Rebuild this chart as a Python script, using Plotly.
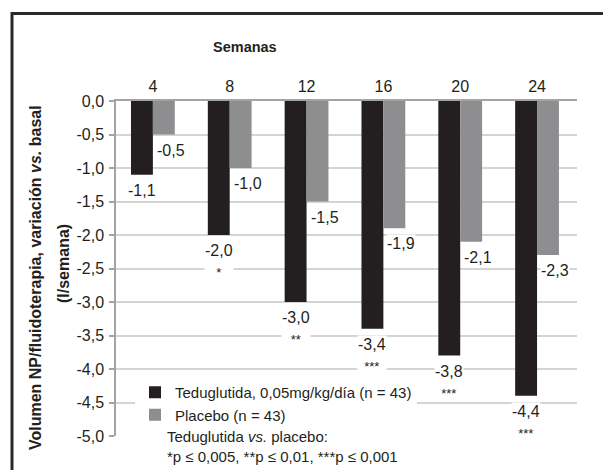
import plotly.graph_objects as go

# Data: change in PN/IV volume vs. baseline (l/week)
weeks = ["4", "8", "12", "16", "20", "24"]
teduglutide = [-1.1, -2.0, -3.0, -3.4, -3.8, -4.4]
placebo = [-0.5, -1.0, -1.5, -1.9, -2.1, -2.3]
significance = ["", "*", "**", "***", "***", "***"]

y_tickvals = [0.0, -0.5, -1.0, -1.5, -2.0, -2.5, -3.0, -3.5, -4.0, -4.5, -5.0]
y_ticktext = ["0,0", "-0,5", "-1,0", "-1,5", "-2,0", "-2,5", "-3,0", "-3,5", "-4,0", "-4,5", "-5,0"]

name_tedu = "Teduglutida, 0,05mg/kg/día (n = 43)"
name_plac = "Placebo (n = 43)"

# Figure geometry (pixels)
W, H = 603, 470
L, R, T, B = 116, 26, 101, 34
PW, PH = W - L - R, H - T - B


def px_x(p):
    return (p - L) / PW


def px_y(p):
    return (H - B - p) / PH


REG = "Liberation Sans, Arial, sans-serif"
INK = "#231f20"
BLACK_BAR = "#231f20"
GREY_BAR = "#8e8e90"
AXIS = "#a3a3a3"
GRID = "#d4d4d4"

BARGAP = 0.43
half = (1 - BARGAP) / 4  # offset of each bar centre from its category centre


def fmt(v):
    return f"{v:.1f}".replace(".", ",")


fig = go.Figure()
fig.add_bar(x=weeks, y=teduglutide, name=name_tedu,
            marker=dict(color=BLACK_BAR, line=dict(width=0)), hoverinfo="skip")
fig.add_bar(x=weeks, y=placebo, name=name_plac,
            marker=dict(color=GREY_BAR, line=dict(width=0)), hoverinfo="skip")

annotations = []
for i, (vt, vp, s) in enumerate(zip(teduglutide, placebo, significance)):
    txt = fmt(vt)
    if s:
        txt += f"<br><span style='font-size:13px'>{s}</span>"
    annotations.append(dict(
        x=i - half, y=vt, xref="x", yref="y", text=txt, showarrow=False,
        xanchor="center", yanchor="top", yshift=-6, align="center",
        bgcolor="white", borderpad=0,
        font=dict(family=REG, size=16, color=INK)))
    annotations.append(dict(
        x=i + half, y=vp, xref="x", yref="y", text=fmt(vp), showarrow=False,
        xanchor="center", yanchor="top", yshift=-6, xshift=7,
        bgcolor="white", borderpad=0,
        font=dict(family=REG, size=16, color=INK)))

# Header and y-axis title
annotations.append(dict(
    x=px_x(245), y=px_y(47), xref="paper", yref="paper", showarrow=False,
    text="<b>Semanas</b>", xanchor="center", yanchor="middle",
    font=dict(family=REG, size=14.5, color=INK)))
annotations.append(dict(
    x=px_x(35), y=px_y(278), xref="paper", yref="paper", showarrow=False,
    text="<b>Volumen NP/fluidoterapia, variación <i>vs.</i> basal</b>",
    textangle=-90, xanchor="center", yanchor="middle",
    font=dict(family=REG, size=16, color=INK)))
annotations.append(dict(
    x=px_x(63), y=px_y(264), xref="paper", yref="paper", showarrow=False,
    text="<b>(l/semana)</b>", textangle=-90, xanchor="center", yanchor="middle",
    font=dict(family=REG, size=16, color=INK)))

# Significance note under the legend
annotations.append(dict(
    x=px_x(166), y=px_y(427), xref="paper", yref="paper", showarrow=False,
    text="Teduglutida <i>vs.</i> placebo:<br>*p ≤ 0,005, **p ≤ 0,01, ***p ≤ 0,001",
    xanchor="left", yanchor="top", align="left", bgcolor="white", borderpad=0,
    font=dict(family=REG, size=15, color=INK)))

# Outer frame
shapes = [dict(type="rect", xref="paper", yref="paper",
               x0=px_x(12), x1=px_x(660), y0=px_y(13.5), y1=px_y(540),
               line=dict(color="#2a2a2a", width=3), fillcolor="rgba(0,0,0,0)",
               layer="below")]

fig.update_layout(
    width=W, height=H,
    margin=dict(l=L, r=R, t=T, b=B, pad=0),
    paper_bgcolor="white", plot_bgcolor="white",
    barmode="group", bargap=BARGAP, bargroupgap=0,
    separators=", ",
    font=dict(family=REG, size=16, color=INK),
    showlegend=True,
    legend=dict(x=px_x(135), y=px_y(376), xanchor="left", yanchor="top",
                bgcolor="white", borderwidth=0, itemwidth=30,
                font=dict(family=REG, size=15, color=INK),
                tracegroupgap=0),
    annotations=annotations,
    shapes=shapes,
)

fig.update_xaxes(
    type="category", side="top", range=[-0.48, 5.52],
    showline=True, linecolor=AXIS, linewidth=1.5,
    ticks="", showgrid=False, zeroline=False,
    tickfont=dict(family=REG, size=16, color=INK),
    ticklabelstandoff=1,
)
fig.update_yaxes(
    range=[-5.0, 0.0], tickvals=y_tickvals, ticktext=y_ticktext,
    showline=True, linecolor=AXIS, linewidth=1.5,
    ticks="outside", ticklen=5, tickcolor=AXIS, tickwidth=1.5,
    showgrid=True, gridcolor=GRID, gridwidth=1.5, zeroline=False,
    tickfont=dict(family=REG, size=16, color=INK),
    ticklabelstandoff=2,
)

fig.write_html("out.html")
